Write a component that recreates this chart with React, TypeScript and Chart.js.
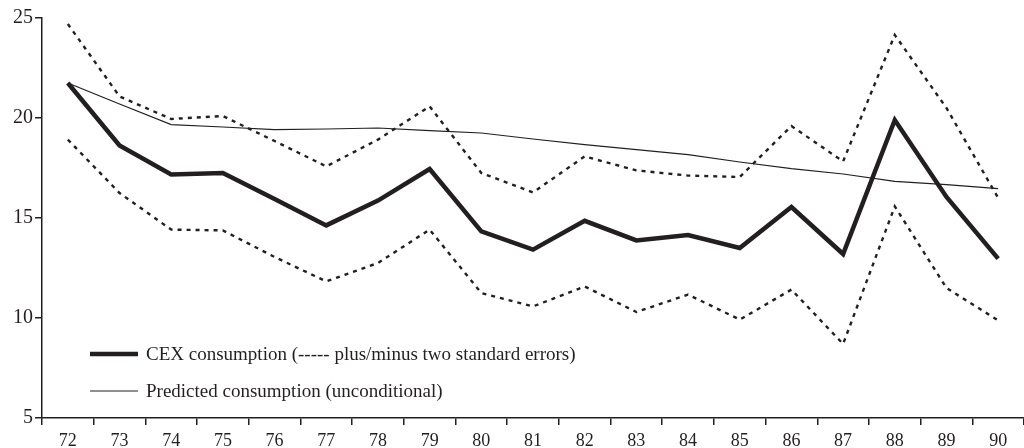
import React, { useEffect, useRef } from "react";
import { Chart, registerables } from "chart.js";

Chart.register(...registerables);

const years = ["72", "73", "74", "75", "76", "77", "78", "79", "80", "81", "82", "83", "84", "85", "86", "87", "88", "89", "90"];
const cexConsumption = [21.75, 18.63, 17.18, 17.25, 15.95, 14.63, 15.87, 17.45, 14.33, 13.42, 14.86, 13.88, 14.15, 13.5, 15.55, 13.2, 19.9, 16.05, 12.97];
const predictedConsumption = [21.75, 20.7, 19.67, 19.55, 19.42, 19.45, 19.5, 19.37, 19.25, 18.95, 18.67, 18.42, 18.17, 17.8, 17.47, 17.2, 16.83, 16.67, 16.47];
const upperBand = [24.7, 21.08, 19.95, 20.1, 18.85, 17.58, 18.92, 20.58, 17.25, 16.28, 18.08, 17.38, 17.12, 17.05, 19.6, 17.83, 24.15, 20.5, 16.0];
const lowerBand = [18.92, 16.25, 14.42, 14.38, 13.05, 11.83, 12.75, 14.42, 11.25, 10.58, 11.58, 10.3, 11.17, 9.92, 11.42, 8.7, 15.58, 11.5, 9.88];
const yTicks = [5, 10, 15, 20, 25];
const legendLabels = [
  "CEX consumption (----- plus/minus two standard errors)",
  "Predicted consumption (unconditional)",
];

const INK = "#231f20";
const FONT = "'Liberation Serif', 'DejaVu Serif', serif";

const legendPlugin = {
  id: "innerLegend",
  afterDraw(chart: any) {
    const { ctx, chartArea } = chart;
    const rows = [
      { width: 4.5, text: legendLabels[0], dy: 64 },
      { width: 1.2, text: legendLabels[1], dy: 27 },
    ];
    ctx.save();
    ctx.fillStyle = INK;
    ctx.strokeStyle = INK;
    ctx.font = `19px ${FONT}`;
    ctx.textBaseline = "middle";
    ctx.textAlign = "left";
    rows.forEach((r) => {
      const y = chartArea.bottom - r.dy;
      const x0 = chartArea.left + 48;
      ctx.lineWidth = r.width;
      ctx.beginPath();
      ctx.moveTo(x0, y);
      ctx.lineTo(x0 + 48, y);
      ctx.stroke();
      ctx.fillText(r.text, x0 + 56, y + 1);
    });
    ctx.restore();
  },
};

export default function App() {
  const ref = useRef<HTMLCanvasElement | null>(null);

  useEffect(() => {
    document.body.style.margin = "0";
    document.body.style.overflow = "hidden";
    if (!ref.current) return;
    const dashed = {
      borderColor: INK,
      borderWidth: 2.4,
      borderDash: [4, 5],
      pointRadius: 0,
      tension: 0,
      fill: false,
    };
    const chart = new Chart(ref.current, {
      type: "line",
      data: {
        labels: years,
        datasets: [
          { label: "Upper band", data: upperBand, ...dashed },
          { label: "Lower band", data: lowerBand, ...dashed },
          {
            label: legendLabels[1],
            data: predictedConsumption,
            borderColor: INK,
            borderWidth: 1.2,
            pointRadius: 0,
            tension: 0,
            fill: false,
          },
          {
            label: legendLabels[0],
            data: cexConsumption,
            borderColor: INK,
            borderWidth: 4.5,
            pointRadius: 0,
            tension: 0,
            fill: false,
            borderJoinStyle: "miter",
          },
        ],
      },
      options: {
        animation: false,
        responsive: true,
        maintainAspectRatio: false,
        layout: { padding: { top: 18, left: 0, right: 0, bottom: 0 } },
        plugins: {
          legend: { display: false },
          tooltip: { enabled: false },
        },
        scales: {
          x: {
            offset: true,
            grid: {
              offset: true,
              drawOnChartArea: false,
              drawTicks: true,
              tickLength: 7,
              color: INK,
              lineWidth: 1.5,
            },
            border: { display: true, color: INK, width: 1.5 },
            ticks: {
              color: INK,
              font: { family: FONT, size: 18 },
              padding: 5,
              maxRotation: 0,
              autoSkip: false,
            },
            afterFit(scale: any) {
              scale.height = 30;
            },
          },
          y: {
            min: 5,
            max: 25,
            afterBuildTicks(scale: any) {
              scale.ticks = yTicks.map((v) => ({ value: v }));
            },
            grid: {
              drawOnChartArea: false,
              drawTicks: true,
              tickLength: 7,
              color: INK,
              lineWidth: 1.5,
            },
            border: { display: true, color: INK, width: 1.5 },
            ticks: {
              color: INK,
              font: { family: FONT, size: 20 },
              padding: 2,
            },
            afterFit(scale: any) {
              scale.width = 42;
            },
          },
        },
      },
      plugins: [legendPlugin],
    });
    return () => chart.destroy();
  }, []);

  return (
    <div style={{ position: "fixed", left: 0, top: 0, width: 1024, height: 448 }}>
      <canvas ref={ref} />
    </div>
  );
}
